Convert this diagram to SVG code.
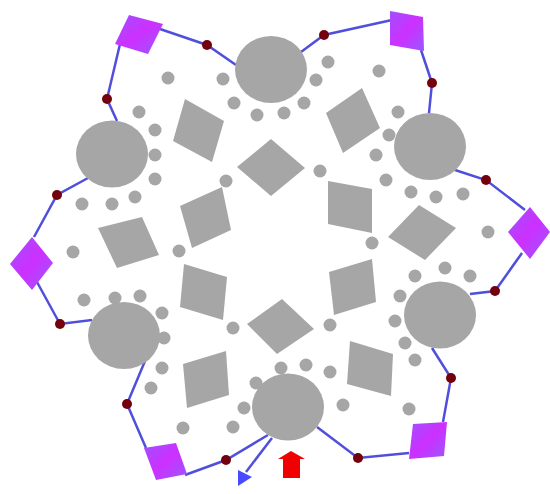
<svg xmlns="http://www.w3.org/2000/svg" width="550" height="494" viewBox="0 0 550 494">
<style>
.big,.dot,.quad{fill:#a6a6a6}
.pur{fill:url(#g)}
.j{fill:#740008}
.c{fill:none;stroke:#5050dc;stroke-width:2.5}
</style>
<defs>
<linearGradient id="g" x1="0" y1="0" x2="1" y2="1">
<stop offset="0" stop-color="#a050ff"/><stop offset="0.5" stop-color="#cc30ff"/><stop offset="1" stop-color="#9a58ff"/>
</linearGradient>
<filter id="b" x="-2%" y="-2%" width="104%" height="104%"><feGaussianBlur stdDeviation="0.5"/></filter>
</defs>
<rect width="550" height="494" fill="#fff"/>
<g filter="url(#b)">
<g id="connectors">
<polyline class="c" points="160,29 207,45 236,65"/>
<polyline class="c" points="120,44 107,99 117,121"/>
<polyline class="c" points="88,178 57,195 34,237"/>
<polyline class="c" points="37,282 60,324 92,320"/>
<polyline class="c" points="145,361 127,404 146,448"/>
<polyline class="c" points="185,475 226,460 268,435"/>
<line class="c" x1="272" y1="438" x2="246" y2="472"/>
<polyline class="c" points="317,427 358,458 409,453"/>
<polyline class="c" points="443,422 451,378 432,348"/>
<polyline class="c" points="470,294 495,291 522,253"/>
<polyline class="c" points="525,210 486,180 455,170"/>
<polyline class="c" points="421,50 432,83 429,113"/>
<polyline class="c" points="392,20 324,35 301,52"/>
<polygon id="arrow-blue" fill="#4a4aff" points="238,470 252,477 238,486"/>
<polygon id="arrow-red" fill="#f00000" points="291,451 305,459 300,459 300,478 283,478 283,459 278,459"/>
</g>
<g id="circles">
<ellipse id="c1" class="big" cx="271" cy="69.5" rx="36" ry="33.5"/>
<ellipse id="c2" class="big" cx="112" cy="154" rx="36" ry="33.5"/>
<ellipse id="c3" class="big" cx="430" cy="146.5" rx="36" ry="33.5"/>
<ellipse id="c4" class="big" cx="440" cy="315" rx="36" ry="33.5"/>
<ellipse id="c5" class="big" cx="124" cy="335.5" rx="36" ry="33.5"/>
<ellipse id="c6" class="big" cx="288" cy="407" rx="36" ry="33.5"/>
</g>
<g id="squares">
<polygon id="p1" class="pur" points="129,15 163,24 148,54 115,44"/>
<polygon id="p2" class="pur" points="390,11 423,17 424,51 390,45"/>
<polygon id="p3" class="pur" points="530,207 550,232 530,259 508,232"/>
<polygon id="p4" class="pur" points="32,237 53,263 32,290 10,264"/>
<polygon id="p5" class="pur" points="144,448 176,443 187,474 156,480"/>
<polygon id="p6" class="pur" points="413,424 447,422 444,456 409,459"/>
</g>
<g id="quads">
<polygon id="q1" class="quad" points="185,99 224,121 212,162 173,141"/>
<polygon id="q2" class="quad" points="271,139 305,168 271,196 237,167"/>
<polygon id="q3" class="quad" points="222,187 231,230 192,248 180,206"/>
<polygon id="q4" class="quad" points="98,228 142,217 159,255 117,268"/>
<polygon id="q5" class="quad" points="362,88 380,128 343,153 326,113"/>
<polygon id="q6" class="quad" points="328,181 372,189 372,233 328,224"/>
<polygon id="q7" class="quad" points="419,205 456,228 425,260 388,237"/>
<polygon id="q8" class="quad" points="184,264 227,277 223,320 180,307"/>
<polygon id="q9" class="quad" points="183,364 226,351 229,395 187,408"/>
<polygon id="q10" class="quad" points="282,299 314,329 277,354 247,324"/>
<polygon id="q11" class="quad" points="329,272 372,259 376,302 334,315"/>
<polygon id="q12" class="quad" points="350,341 393,354 391,396 347,384"/>
</g>
<g id="dots">
<circle class="dot" r="6.5" cx="168" cy="78"/><circle class="dot" r="6.5" cx="223" cy="79"/><circle class="dot" r="6.5" cx="234" cy="103"/><circle class="dot" r="6.5" cx="257" cy="115"/>
<circle class="dot" r="6.5" cx="139" cy="112"/><circle class="dot" r="6.5" cx="155" cy="130"/><circle class="dot" r="6.5" cx="155" cy="155"/><circle class="dot" r="6.5" cx="155" cy="179"/>
<circle class="dot" r="6.5" cx="135" cy="197"/><circle class="dot" r="6.5" cx="112" cy="204"/><circle class="dot" r="6.5" cx="82" cy="204"/><circle class="dot" r="6.5" cx="226" cy="181"/>
<circle class="dot" r="6.5" cx="73" cy="252"/><circle class="dot" r="6.5" cx="179" cy="251"/>
<circle class="dot" r="6.5" cx="328" cy="62"/><circle class="dot" r="6.5" cx="316" cy="80"/><circle class="dot" r="6.5" cx="304" cy="103"/><circle class="dot" r="6.5" cx="284" cy="113"/>
<circle class="dot" r="6.5" cx="379" cy="71"/><circle class="dot" r="6.5" cx="398" cy="112"/><circle class="dot" r="6.5" cx="389" cy="135"/><circle class="dot" r="6.5" cx="376" cy="155"/>
<circle class="dot" r="6.5" cx="386" cy="180"/><circle class="dot" r="6.5" cx="320" cy="171"/><circle class="dot" r="6.5" cx="411" cy="192"/><circle class="dot" r="6.5" cx="436" cy="197"/>
<circle class="dot" r="6.5" cx="463" cy="194"/><circle class="dot" r="6.5" cx="488" cy="232"/><circle class="dot" r="6.5" cx="372" cy="243"/>
<circle class="dot" r="6.5" cx="84" cy="300"/><circle class="dot" r="6.5" cx="115" cy="298"/><circle class="dot" r="6.5" cx="140" cy="296"/><circle class="dot" r="6.5" cx="162" cy="313"/>
<circle class="dot" r="6.5" cx="164" cy="338"/><circle class="dot" r="6.5" cx="162" cy="368"/><circle class="dot" r="6.5" cx="151" cy="388"/><circle class="dot" r="6.5" cx="233" cy="328"/>
<circle class="dot" r="6.5" cx="256" cy="383"/><circle class="dot" r="6.5" cx="244" cy="408"/><circle class="dot" r="6.5" cx="233" cy="427"/><circle class="dot" r="6.5" cx="183" cy="428"/>
<circle class="dot" r="6.5" cx="330" cy="325"/><circle class="dot" r="6.5" cx="415" cy="276"/><circle class="dot" r="6.5" cx="445" cy="268"/><circle class="dot" r="6.5" cx="470" cy="276"/>
<circle class="dot" r="6.5" cx="400" cy="296"/><circle class="dot" r="6.5" cx="395" cy="321"/><circle class="dot" r="6.5" cx="405" cy="343"/><circle class="dot" r="6.5" cx="415" cy="360"/>
<circle class="dot" r="6.5" cx="281" cy="368"/><circle class="dot" r="6.5" cx="306" cy="365"/><circle class="dot" r="6.5" cx="330" cy="372"/><circle class="dot" r="6.5" cx="343" cy="405"/><circle class="dot" r="6.5" cx="409" cy="409"/>
</g>
<g id="junctions">
<circle class="j" r="5" cx="207" cy="45"/><circle class="j" r="5" cx="107" cy="99"/><circle class="j" r="5" cx="57" cy="195"/><circle class="j" r="5" cx="60" cy="324"/>
<circle class="j" r="5" cx="127" cy="404"/><circle class="j" r="5" cx="226" cy="460"/><circle class="j" r="5" cx="324" cy="35"/><circle class="j" r="5" cx="432" cy="83"/>
<circle class="j" r="5" cx="486" cy="180"/><circle class="j" r="5" cx="495" cy="291"/><circle class="j" r="5" cx="451" cy="378"/><circle class="j" r="5" cx="358" cy="458"/>
</g>
</g>
</svg>
